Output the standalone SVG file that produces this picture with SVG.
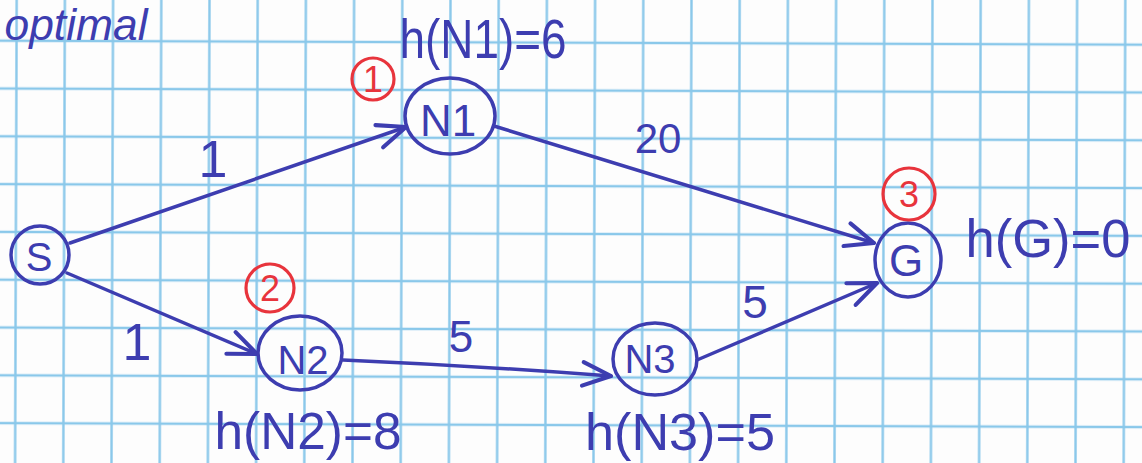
<svg xmlns="http://www.w3.org/2000/svg" width="1142" height="463" viewBox="0 0 1142 463">
<style>
.node{fill:none;stroke:#3d3db0;stroke-width:3.5}
.edge{fill:none;stroke:#3d3db0;stroke-width:3.5;stroke-linecap:round}
.t{font-family:"Liberation Sans",Arial,sans-serif;fill:#3d3db0;text-anchor:middle}
.red{fill:none;stroke:#e8343c;stroke-width:3.2}
.rt{font-family:"Liberation Sans",Arial,sans-serif;fill:#e8343c;text-anchor:middle;font-size:36px}
</style>
<defs>
<pattern id="grid" patternUnits="userSpaceOnUse" x="-7.4" y="16.8" width="48.2" height="47.8" patternTransform="rotate(0.2)">
<path d="M24.1 0V47.8M0 23.9H48.2" stroke="#8ac8ea" stroke-width="2.4" fill="none"/>
</pattern>
<marker id="arr" markerUnits="userSpaceOnUse" markerWidth="40" markerHeight="40" viewBox="-30 -15 34 30" refX="0" refY="0" orient="auto">
<path d="M-24,-10 L0,0 L-24,10" fill="none" stroke="#3d3db0" stroke-width="3.5" stroke-linecap="round" stroke-linejoin="round"/>
</marker>
</defs>
<rect width="1142" height="463" fill="#fdfdfd"/>
<rect width="1142" height="463" fill="url(#grid)"/>
<text class="t" x="76" y="40" font-size="44" font-style="italic" textLength="143" lengthAdjust="spacingAndGlyphs">optimal</text>
<g id="connectors">
<path class="edge" d="M70,243 L406,127" marker-end="url(#arr)"/>
<path class="edge" d="M67,273 L257,354" marker-end="url(#arr)"/>
<path class="edge" d="M494,126 L874,243" marker-end="url(#arr)"/>
<path class="edge" d="M343,360 Q480,366 611,376" marker-end="url(#arr)"/>
<path class="edge" d="M697,360 L877,283" marker-end="url(#arr)"/>
<text class="t" x="213" y="177" font-size="52">1</text>
<text class="t" x="137" y="360" font-size="52">1</text>
<text class="t" x="658" y="153" font-size="42">20</text>
<text class="t" x="461" y="352" font-size="44">5</text>
<text class="t" x="755" y="318" font-size="46">5</text>
</g>
<g id="S">
<ellipse class="node" cx="40" cy="255" rx="29" ry="29"/>
<text class="t" x="39" y="271" font-size="40">S</text>
</g>
<g id="N1">
<ellipse class="node" cx="450" cy="116" rx="45" ry="38"/>
<text class="t" x="448" y="136" font-size="44">N1</text>
<circle class="red" cx="373" cy="79" r="21"/>
<text class="rt" x="373" y="92">1</text>
<text class="t" x="483" y="58" font-size="56" textLength="167" lengthAdjust="spacingAndGlyphs">h(N1)=6</text>
</g>
<g id="N2">
<ellipse class="node" cx="300" cy="353" rx="42" ry="37"/>
<text class="t" x="303" y="374" font-size="40">N2</text>
<circle class="red" cx="270" cy="288" r="24"/>
<text class="rt" x="270" y="301">2</text>
<text class="t" x="308" y="449" font-size="52" textLength="187" lengthAdjust="spacingAndGlyphs">h(N2)=8</text>
</g>
<g id="N3">
<ellipse class="node" cx="655" cy="359" rx="42" ry="36"/>
<text class="t" x="650" y="373" font-size="40">N3</text>
<text class="t" x="680" y="450" font-size="52" textLength="190" lengthAdjust="spacingAndGlyphs">h(N3)=5</text>
</g>
<g id="G">
<ellipse class="node" cx="908" cy="260" rx="33" ry="37"/>
<text class="t" x="906" y="276" font-size="44">G</text>
<circle class="red" cx="909" cy="194" r="26"/>
<text class="rt" x="909" y="207">3</text>
<text class="t" x="1048" y="257" font-size="54" textLength="165" lengthAdjust="spacingAndGlyphs">h(G)=0</text>
</g>
</svg>
